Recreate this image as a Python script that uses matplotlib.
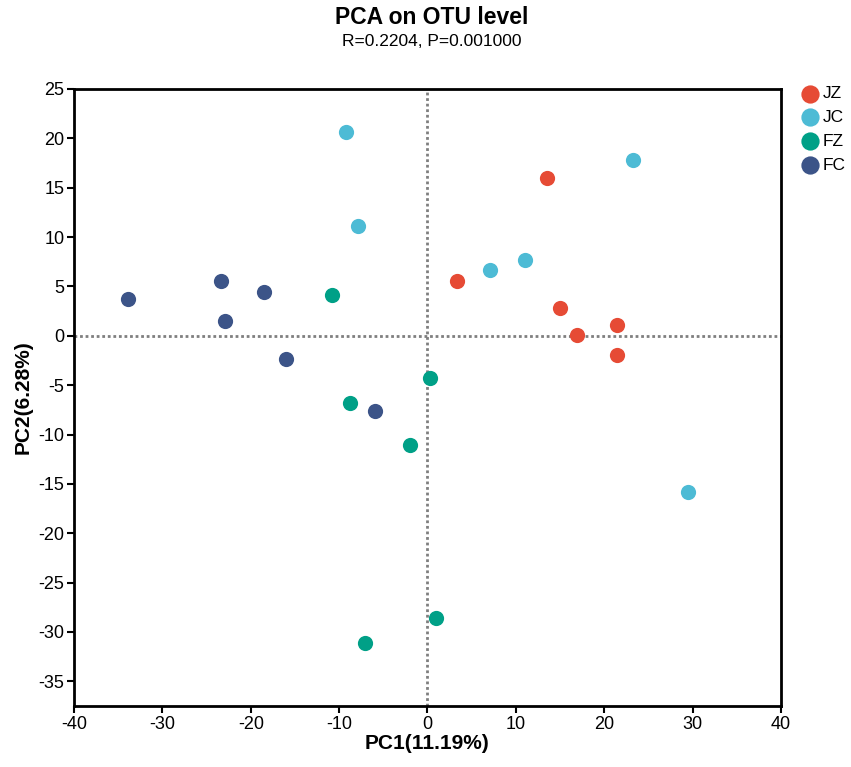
import matplotlib
matplotlib.use("Agg")
import matplotlib.pyplot as plt

plt.rcParams['font.family'] = ['Liberation Sans', 'DejaVu Sans']
plt.rcParams['axes.unicode_minus'] = False

groups = ["JZ", "JC", "FZ", "FC"]
colors = ["#E64B35", "#4DBBD5", "#00A087", "#3C5488"]

jz_x = [13.5, 3.3, 15.0, 16.9, 21.4, 21.4]
jz_y = [16.0, 5.6, 2.8, 0.1, 1.1, -1.9]
jc_x = [-9.2, -7.9, 23.2, 7.1, 11.0, 29.5]
jc_y = [20.6, 11.1, 17.8, 6.7, 7.7, -15.8]
fz_x = [-10.8, 0.3, -8.8, -2.0, 1.0, -7.1]
fz_y = [4.1, -4.3, -6.8, -11.1, -28.6, -31.1]
fc_x = [-33.9, -23.4, -18.5, -22.9, -16.0, -5.9]
fc_y = [3.7, 5.6, 4.4, 1.5, -2.3, -7.6]

xs = [jz_x, jc_x, fz_x, fc_x]
ys = [jz_y, jc_y, fz_y, fc_y]

xticks = list(range(-40, 41, 10))
yticks = list(range(-35, 26, 5))

fig = plt.figure(figsize=(8.51, 7.67), dpi=100)
ax = fig.add_axes([0.087, 0.0795, 0.8307, 0.8045])

ax.axhline(0, color="#7f7f7f", lw=2, linestyle=(0, (1, 1)), zorder=1)
ax.axvline(0, color="#7f7f7f", lw=2, linestyle=(0, (1, 1)), zorder=1)

for g, c, x, y in zip(groups, colors, xs, ys):
    ax.scatter(x, y, s=120, color=c, label=g, zorder=3, linewidths=0)

ax.set_xlim(-40, 40)
ax.set_ylim(-37.5, 25)
ax.set_xticks(xticks)
ax.set_yticks(yticks)
ax.tick_params(labelsize=13, width=1.5, length=5, pad=2)
for s in ax.spines.values():
    s.set_linewidth(2)

ax.set_xlabel("PC1(11.19%)", fontsize=15, fontweight="bold", labelpad=1)
ax.set_ylabel("PC2(6.28%)", fontsize=15, fontweight="bold", labelpad=4)

fig.text(0.507, 0.977, "PCA on OTU level", ha="center", va="center",
         fontsize=16.5, fontweight="bold")
fig.text(0.507, 0.946, "R=0.2204, P=0.001000", ha="center", va="center",
         fontsize=12.5)

fig.legend(loc="upper left", bbox_to_anchor=(0.932, 0.897), frameon=False,
           fontsize=12.5, handletextpad=0.1, labelspacing=0.5, borderaxespad=0,
           handlelength=1.2, markerscale=1.2)

fig.savefig("out.png", dpi=100)
